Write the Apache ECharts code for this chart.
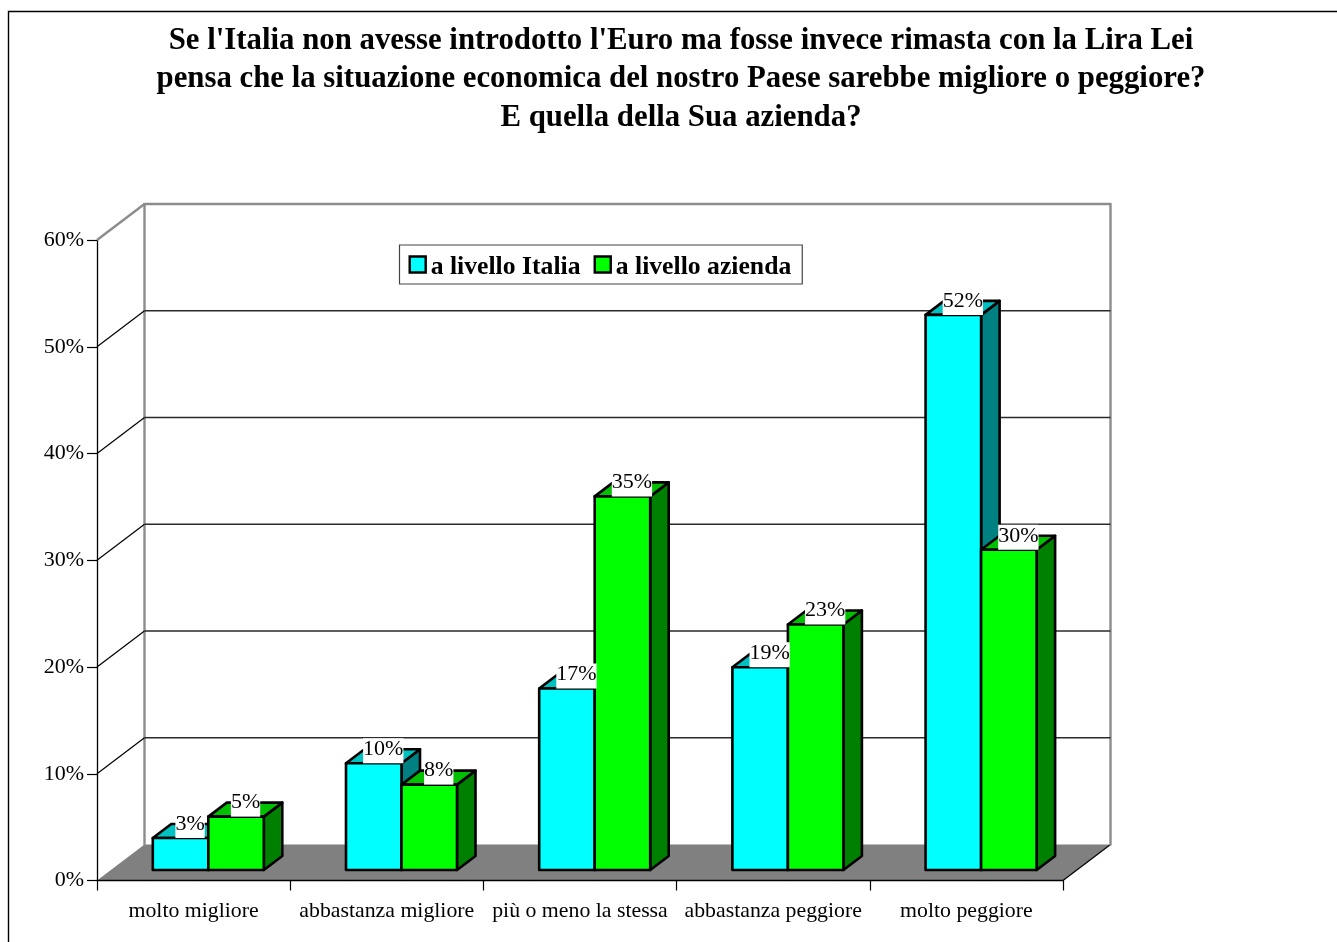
<!DOCTYPE html>
<html>
<head>
<meta charset="utf-8">
<style>html,body{margin:0;padding:0;background:#fff}#chart{width:1337px;height:942px}</style>
<script src="https://cdn.jsdelivr.net/npm/echarts@6/dist/echarts.min.js"></script>
</head>
<body>
<div id="chart"></div>
<script>
const titleLines = [
  "Se l'Italia non avesse introdotto l'Euro ma fosse invece rimasta con la Lira Lei",
  "pensa che la situazione economica del nostro Paese sarebbe migliore o peggiore?",
  "E quella della Sua azienda?"
];
const categories = ['molto migliore', 'abbastanza migliore', 'più o meno la stessa', 'abbastanza peggiore', 'molto peggiore'];
const italia = [3, 10, 17, 19, 52];
const azienda = [5, 8, 35, 23, 30];
const yTicks = [0, 10, 20, 30, 40, 50, 60];

const SERIF = '"Liberation Serif","Times New Roman",serif';
// Oblique projection of the box: depth of the chart walls and of the bars.
const WALL_DX = 47.5, WALL_DY = -36;
const BAR_DX = 18.5, BAR_DY = -14;
const BAR_SHIFT_X = 14.7, BAR_SHIFT_Y = -10.5;
const BAR_W = 55.5;

function wallItem(params, api) {
  const v = api.value(0);
  const cs = params.coordSys;
  const y = api.coord([0, v])[1];
  const x0 = cs.x, x1 = cs.x + cs.width;
  const children = [];
  if (v === 0) {
    children.push({
      type: 'polygon',
      shape: { points: [[x0, y], [x1, y], [x1 + WALL_DX, y + WALL_DY], [x0 + WALL_DX, y + WALL_DY]] },
      style: { fill: '#808080', stroke: null }
    });
    children.push({
      type: 'line',
      shape: { x1: x1, y1: y, x2: x1 + WALL_DX, y2: y + WALL_DY },
      style: { stroke: '#000', lineWidth: 1.2 }
    });
    const top = api.coord([0, yTicks[yTicks.length - 1]])[1] + WALL_DY;
    [x0 + WALL_DX, x1 + WALL_DX].forEach(function (x) {
      children.push({
        type: 'line',
        shape: { x1: x, y1: top - 1, x2: x, y2: y + WALL_DY + 1 },
        style: { stroke: '#8c8c8c', lineWidth: 2.4 }
      });
    });
  } else {
    const isTop = v === yTicks[yTicks.length - 1];
    children.push({
      type: 'line',
      shape: { x1: x0, y1: y, x2: x0 + WALL_DX, y2: y + WALL_DY },
      style: { stroke: isTop ? '#8c8c8c' : '#000', lineWidth: isTop ? 2.4 : 1.2 }
    });
    children.push({
      type: 'line',
      shape: { x1: x0 + WALL_DX, y1: y + WALL_DY, x2: x1 + WALL_DX, y2: y + WALL_DY },
      style: { stroke: isTop ? '#8c8c8c' : '#2a2a2a', lineWidth: isTop ? 2.4 : 1.4 }
    });
  }
  return { type: 'group', children: children };
}

function barRenderer(slot, front, topFace, side) {
  return function (params, api) {
    const val = api.value(1);
    const c = api.coord([api.value(0), val]);
    const base = api.coord([api.value(0), 0])[1] + BAR_SHIFT_Y;
    const top = c[1] + BAR_SHIFT_Y;
    const l = c[0] + BAR_SHIFT_X + slot * BAR_W;
    const r = l + BAR_W;
    const edge = { stroke: '#000', lineWidth: 2.6, lineJoin: 'round' };
    return {
      type: 'group',
      children: [
        {
          type: 'polygon',
          shape: { points: [[r, top], [r + BAR_DX, top + BAR_DY], [r + BAR_DX, base + BAR_DY], [r, base]] },
          style: Object.assign({ fill: side }, edge)
        },
        {
          type: 'polygon',
          shape: { points: [[l, top], [l + BAR_DX, top + BAR_DY], [r + BAR_DX, top + BAR_DY], [r, top]] },
          style: Object.assign({ fill: topFace }, edge)
        },
        {
          type: 'rect',
          shape: { x: l, y: top, width: BAR_W, height: base - top },
          style: Object.assign({ fill: front }, edge)
        },
        {
          type: 'text',
          z2: 100,
          style: {
            x: l + BAR_W / 2 + 9.5,
            y: top,
            text: val + '%',
            align: 'center',
            verticalAlign: 'bottom',
            font: '22px ' + SERIF,
            fill: '#000',
            backgroundColor: '#fff',
            padding: [0, 0, 3, 0]
          }
        }
      ]
    };
  };
}

const chart = echarts.init(document.getElementById('chart'), null, { renderer: 'canvas' });
chart.setOption({
  animation: false,
  backgroundColor: '#fff',
  title: {
    text: titleLines.join('\n'),
    left: 676,
    top: 16.5,
    textAlign: 'center',
    textStyle: { fontFamily: SERIF, fontWeight: 'bold', fontSize: 30.8, lineHeight: 38.5, color: '#000' }
  },
  legend: {
    left: 399.5,
    top: 245,
    orient: 'horizontal',
    data: ['a livello Italia', 'a livello azienda'],
    icon: 'rect',
    itemWidth: 16,
    itemHeight: 16,
    itemGap: 13,
    padding: [3.5, 11, 3.5, 9],
    backgroundColor: '#fff',
    borderColor: '#444',
    borderWidth: 1.2,
    borderRadius: 0,
    selectedMode: false,
    itemStyle: { borderColor: '#000', borderWidth: 2.4 },
    formatter: '{t|{name}}',
    textStyle: {
      rich: {
        t: { fontFamily: SERIF, fontWeight: 'bold', fontSize: 25.7, color: '#000', lineHeight: 26, padding: [6, 0, 0, 0] }
      }
    }
  },
  grid: { left: 97, top: 240, width: 966, height: 640.5, containLabel: false },
  xAxis: {
    type: 'category',
    data: categories,
    z: 3,
    axisLine: { lineStyle: { color: '#000', width: 1.3 } },
    axisTick: { show: true, length: 10, lineStyle: { color: '#000', width: 1.2 } },
    axisLabel: { fontFamily: SERIF, fontSize: 21.8, color: '#000', margin: 20, interval: 0, hideOverlap: false }
  },
  yAxis: {
    type: 'value',
    min: 0,
    max: 60,
    interval: 10,
    splitLine: { show: false },
    axisLine: { show: true, lineStyle: { color: '#000', width: 1.3 } },
    axisTick: { show: true, length: 10, lineStyle: { color: '#000', width: 1.2 } },
    axisLabel: { fontFamily: SERIF, fontSize: 22, color: '#000', margin: 13, padding: [2, 0, 0, 0], formatter: '{value}%' }
  },
  series: [
    {
      type: 'custom',
      name: 'pareti',
      silent: true,
      renderItem: wallItem,
      data: yTicks.map(function (t) { return [t]; }),
      encode: { y: 0 },
      z: 1
    },
    {
      type: 'custom',
      name: 'a livello Italia',
      renderItem: barRenderer(-1, '#00ffff', '#00c0c0', '#008080'),
      itemStyle: { color: '#00ffff' },
      data: italia.map(function (v, i) { return [i, v]; }),
      encode: { x: 0, y: 1 },
      z: 2
    },
    {
      type: 'custom',
      name: 'a livello azienda',
      renderItem: barRenderer(0, '#00ff00', '#00c000', '#008000'),
      itemStyle: { color: '#00ff00' },
      data: azienda.map(function (v, i) { return [i, v]; }),
      encode: { x: 0, y: 1 },
      z: 2
    }
  ],
  graphic: [
    {
      type: 'polyline',
      silent: true,
      shape: { points: [[8.5, 942], [8.5, 11.5], [1337, 11.5]] },
      style: { fill: null, stroke: '#000', lineWidth: 1.4 }
    }
  ]
});
</script>
</body>
</html>
